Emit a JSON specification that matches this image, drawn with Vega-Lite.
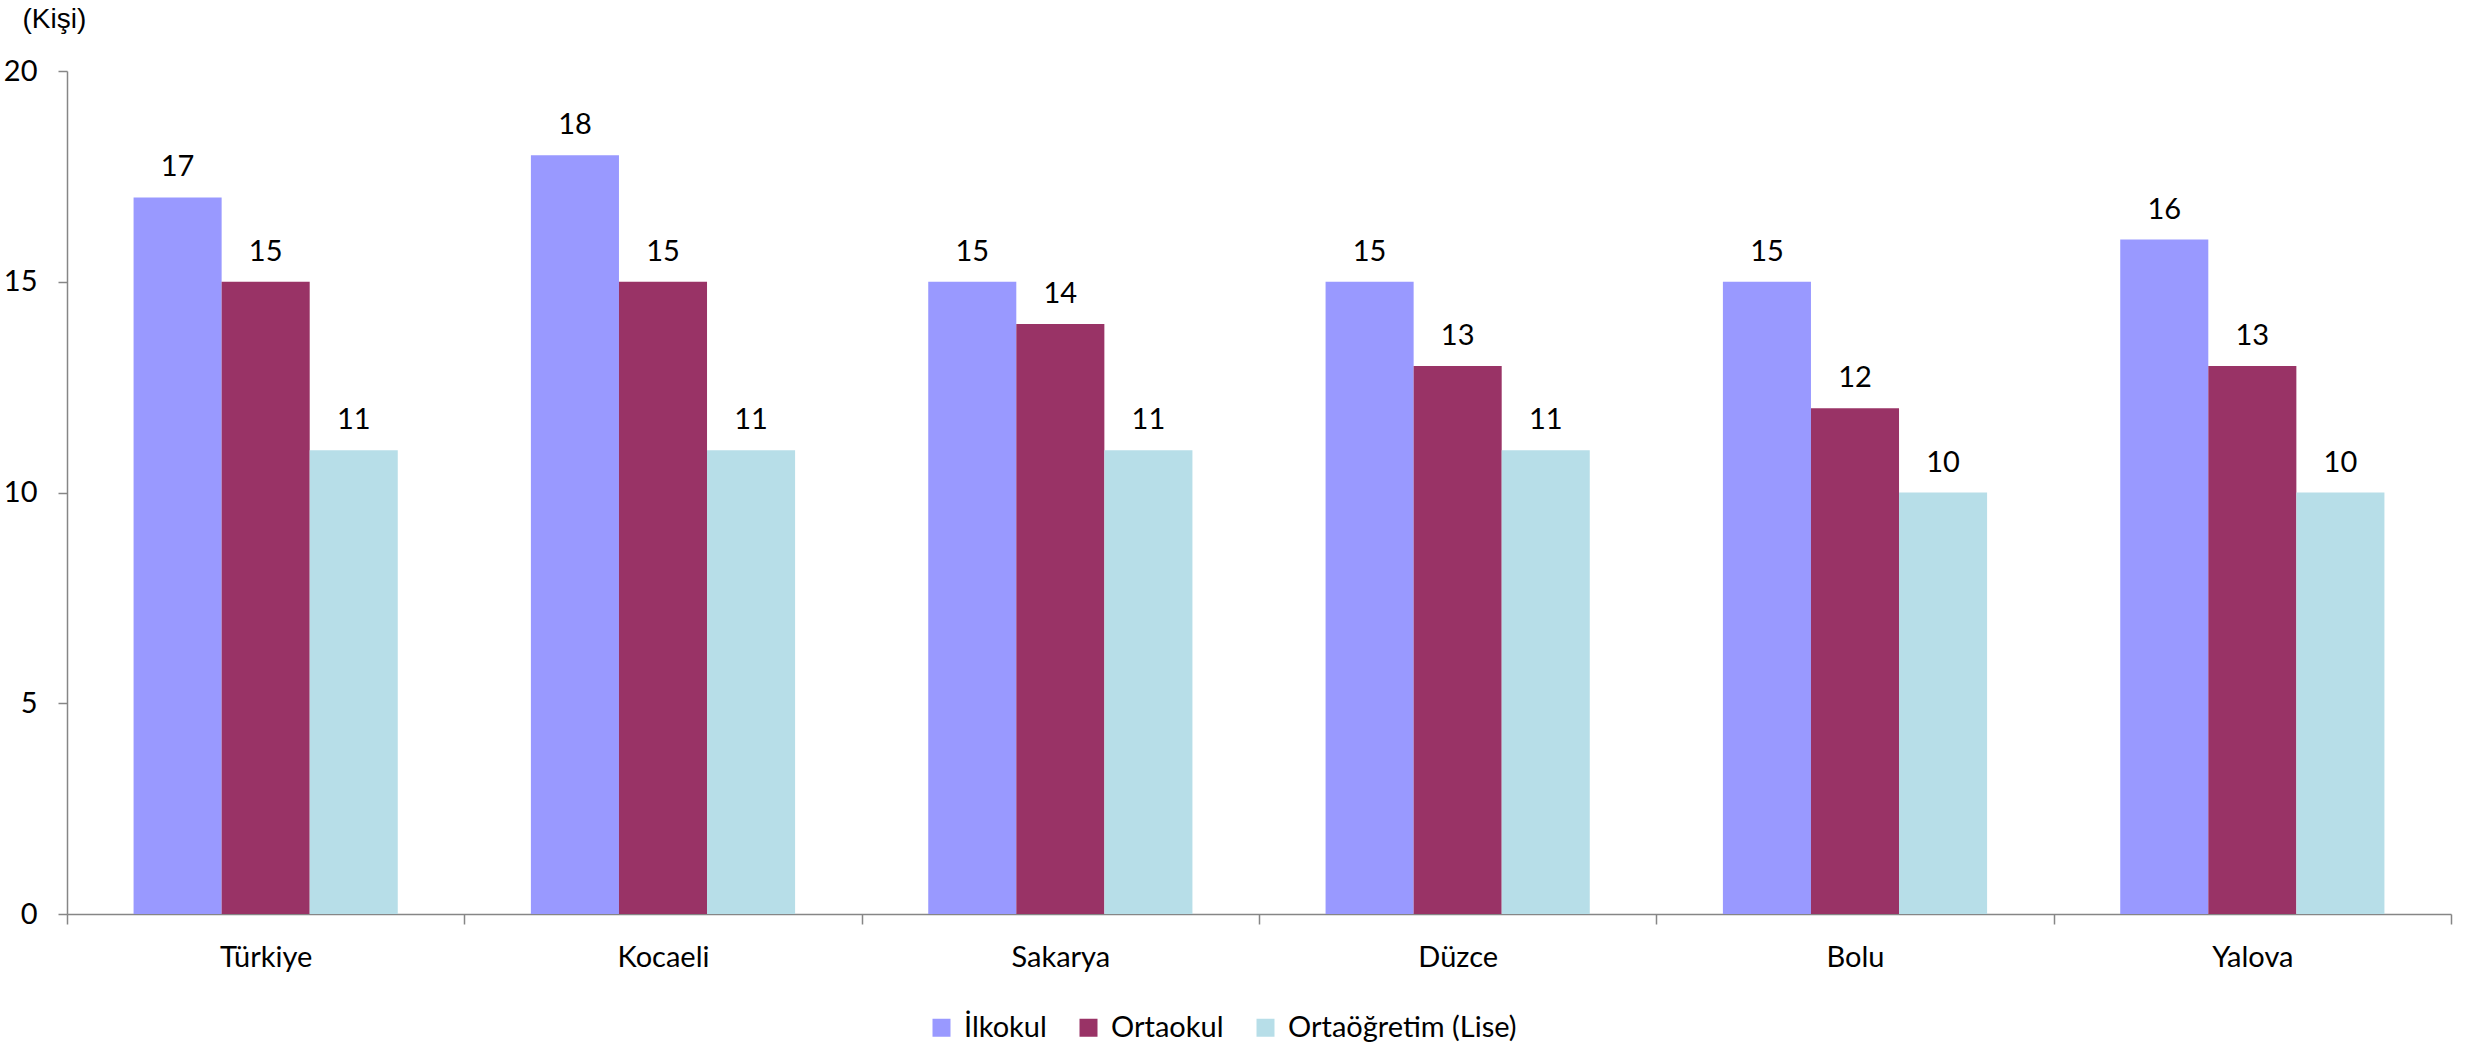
{
  "$schema": "https://vega.github.io/schema/vega-lite/v6.json",
  "width": 2384,
  "height": 843,
  "autosize": {"type": "none"},
  "padding": {"left": 67, "top": 71, "right": 14, "bottom": 128},
  "background": "white",
  "config": {
    "view": {"stroke": null},
    "font": "Lato",
    "axis": {"labelFont": "Lato", "titleFont": "Lato", "labelColor": "#000000", "titleColor": "#000000", "domainColor": "#868686", "tickColor": "#868686", "domainWidth": 1.5, "tickWidth": 1.5, "grid": false}
  },
  "data": {
    "values": [
      {"il": "Türkiye", "kademe": "İlkokul", "deger": 17},
      {"il": "Türkiye", "kademe": "Ortaokul", "deger": 15},
      {"il": "Türkiye", "kademe": "Ortaöğretim (Lise)", "deger": 11},
      {"il": "Kocaeli", "kademe": "İlkokul", "deger": 18},
      {"il": "Kocaeli", "kademe": "Ortaokul", "deger": 15},
      {"il": "Kocaeli", "kademe": "Ortaöğretim (Lise)", "deger": 11},
      {"il": "Sakarya", "kademe": "İlkokul", "deger": 15},
      {"il": "Sakarya", "kademe": "Ortaokul", "deger": 14},
      {"il": "Sakarya", "kademe": "Ortaöğretim (Lise)", "deger": 11},
      {"il": "Düzce", "kademe": "İlkokul", "deger": 15},
      {"il": "Düzce", "kademe": "Ortaokul", "deger": 13},
      {"il": "Düzce", "kademe": "Ortaöğretim (Lise)", "deger": 11},
      {"il": "Bolu", "kademe": "İlkokul", "deger": 15},
      {"il": "Bolu", "kademe": "Ortaokul", "deger": 12},
      {"il": "Bolu", "kademe": "Ortaöğretim (Lise)", "deger": 10},
      {"il": "Yalova", "kademe": "İlkokul", "deger": 16},
      {"il": "Yalova", "kademe": "Ortaokul", "deger": 13},
      {"il": "Yalova", "kademe": "Ortaöğretim (Lise)", "deger": 10}
    ]
  },
  "encoding": {
    "x": {
      "field": "il", "type": "nominal", "sort": null,
      "scale": {"paddingInner": 0, "paddingOuter": 0},
      "axis": {"title": null, "labelAngle": 0, "labelFontSize": 29, "labelBaseline": "alphabetic", "labelPadding": 42, "tickBand": "extent", "tickSize": 10}
    },
    "xOffset": {
      "field": "kademe", "type": "nominal",
      "scale": {"domain": ["İlkokul", "Ortaokul", "Ortaöğretim (Lise)"], "paddingInner": 0, "paddingOuter": 0.756}
    },
    "y": {
      "field": "deger", "type": "quantitative",
      "scale": {"domain": [0, 20], "nice": false},
      "axis": {"values": [0, 5, 10, 15, 20], "labelFontSize": 29, "tickSize": 9, "labelPadding": 21, "title": "(Kişi)", "titleAngle": 0, "titleX": -45, "titleY": -44, "titleAlign": "left", "titleBaseline": "alphabetic", "titleFont": "Liberation Sans", "titleFontSize": 28, "titleFontWeight": "normal"}
    }
  },
  "layer": [
    {
      "mark": {"type": "bar"},
      "encoding": {
        "color": {
          "field": "kademe", "type": "nominal",
          "scale": {"domain": ["İlkokul", "Ortaokul", "Ortaöğretim (Lise)"], "range": ["#9999FF", "#993366", "#B7DEE8"]},
          "legend": {"title": null, "orient": "none", "direction": "horizontal", "legendX": 860, "legendY": 942, "symbolType": "square", "symbolSize": 324, "symbolStrokeWidth": 0, "labelFontSize": 29, "labelFont": "Lato", "labelColor": "#000000", "labelOffset": 8, "labelLimit": 0, "columnPadding": 27}
        }
      }
    },
    {
      "mark": {"type": "text", "baseline": "alphabetic", "dy": -21, "fontSize": 29, "font": "Lato", "color": "#000000"},
      "encoding": {"text": {"field": "deger", "type": "quantitative"}}
    }
  ]
}
